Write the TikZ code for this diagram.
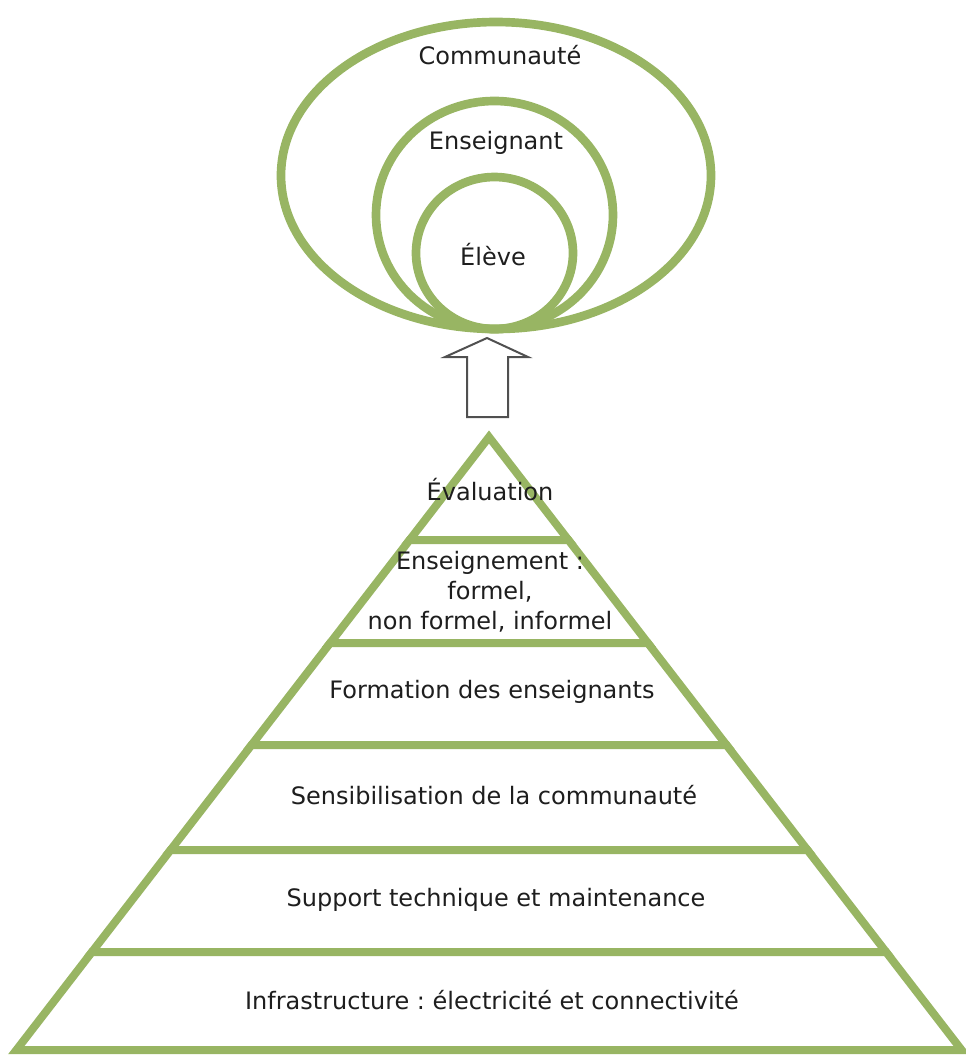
\documentclass[tikz,border=0pt]{standalone}
\usepackage{fontspec}
\setmainfont{DejaVu Sans}
\frenchspacing

\definecolor{ringgreen}{HTML}{98B563}
\definecolor{textgray}{HTML}{1E1E1E}
\definecolor{arrowgray}{HTML}{505050}

\def\apexx{489}
\def\apexy{437}
\def\slope{0.771}

\begin{document}
\begin{tikzpicture}[x=0.75pt,y=-0.75pt,
    ring/.style={draw=ringgreen,line width=6.5pt},
    band/.style={draw=ringgreen,fill=white,line width=6pt,line join=miter},
    lbl/.style={text=textgray,font=\fontsize{18}{22.5}\selectfont,align=center,inner sep=0pt}]
  \useasboundingbox (0,0) rectangle (966,1061);

  % Nested rings, all touching at the bottom
  \draw[ring] (496,175.5) ellipse [x radius=215,y radius=153.5];
  \draw[ring] (494.5,215) ellipse [x radius=118.5,y radius=114];
  \draw[ring] (494.5,253) ellipse [x radius=78.5,y radius=76];
  \node[lbl] (communaute) at (500,55) {Communauté};
  \node[lbl] (enseignant) at (496,143) {Enseignant};
  \node[lbl] (eleve) at (493,255) {Élève};

  % Hollow arrow pointing up to the rings
  \draw[draw=arrowgray,fill=white,line width=1.5pt] (487,338) -- (528,357) -- (508,357) -- (508,417)
    -- (467,417) -- (467,357) -- (445,357) -- cycle;

  % Pyramid: top triangle, then the bands below it
  \pgfmathsetmacro\wfirst{\slope*(540-\apexy)}
  \draw[band] (\apexx,\apexy) -- (\apexx+\wfirst,540) -- (\apexx-\wfirst,540) -- cycle;
  \foreach \top/\bot in {540/643, 643/745, 745/850, 850/952, 952/1050} {
    \pgfmathsetmacro\wtop{\slope*(\top-\apexy)}   % half width at top edge
    \pgfmathsetmacro\wbot{\slope*(\bot-\apexy)}   % half width at bottom edge
    \draw[band] (\apexx-\wtop,\top) -- (\apexx+\wtop,\top) -- (\apexx+\wbot,\bot)
      -- (\apexx-\wbot,\bot) -- cycle;
  }

  % Band labels
  \node[lbl] (evaluation) at (490,490) {Évaluation};
  \node[lbl] (enseignement) at (490,592) {Enseignement :\\formel,\\non formel, informel};
  \node[lbl] (formation) at (492,692) {Formation des enseignants};
  \node[lbl] (sensibilisation) at (494,795) {Sensibilisation de la communauté};
  \node[lbl] (support) at (496,900) {Support technique et maintenance};
  \node[lbl] (infrastructure) at (492,1000) {Infrastructure : électricité et connectivité};
\end{tikzpicture}
\end{document}
